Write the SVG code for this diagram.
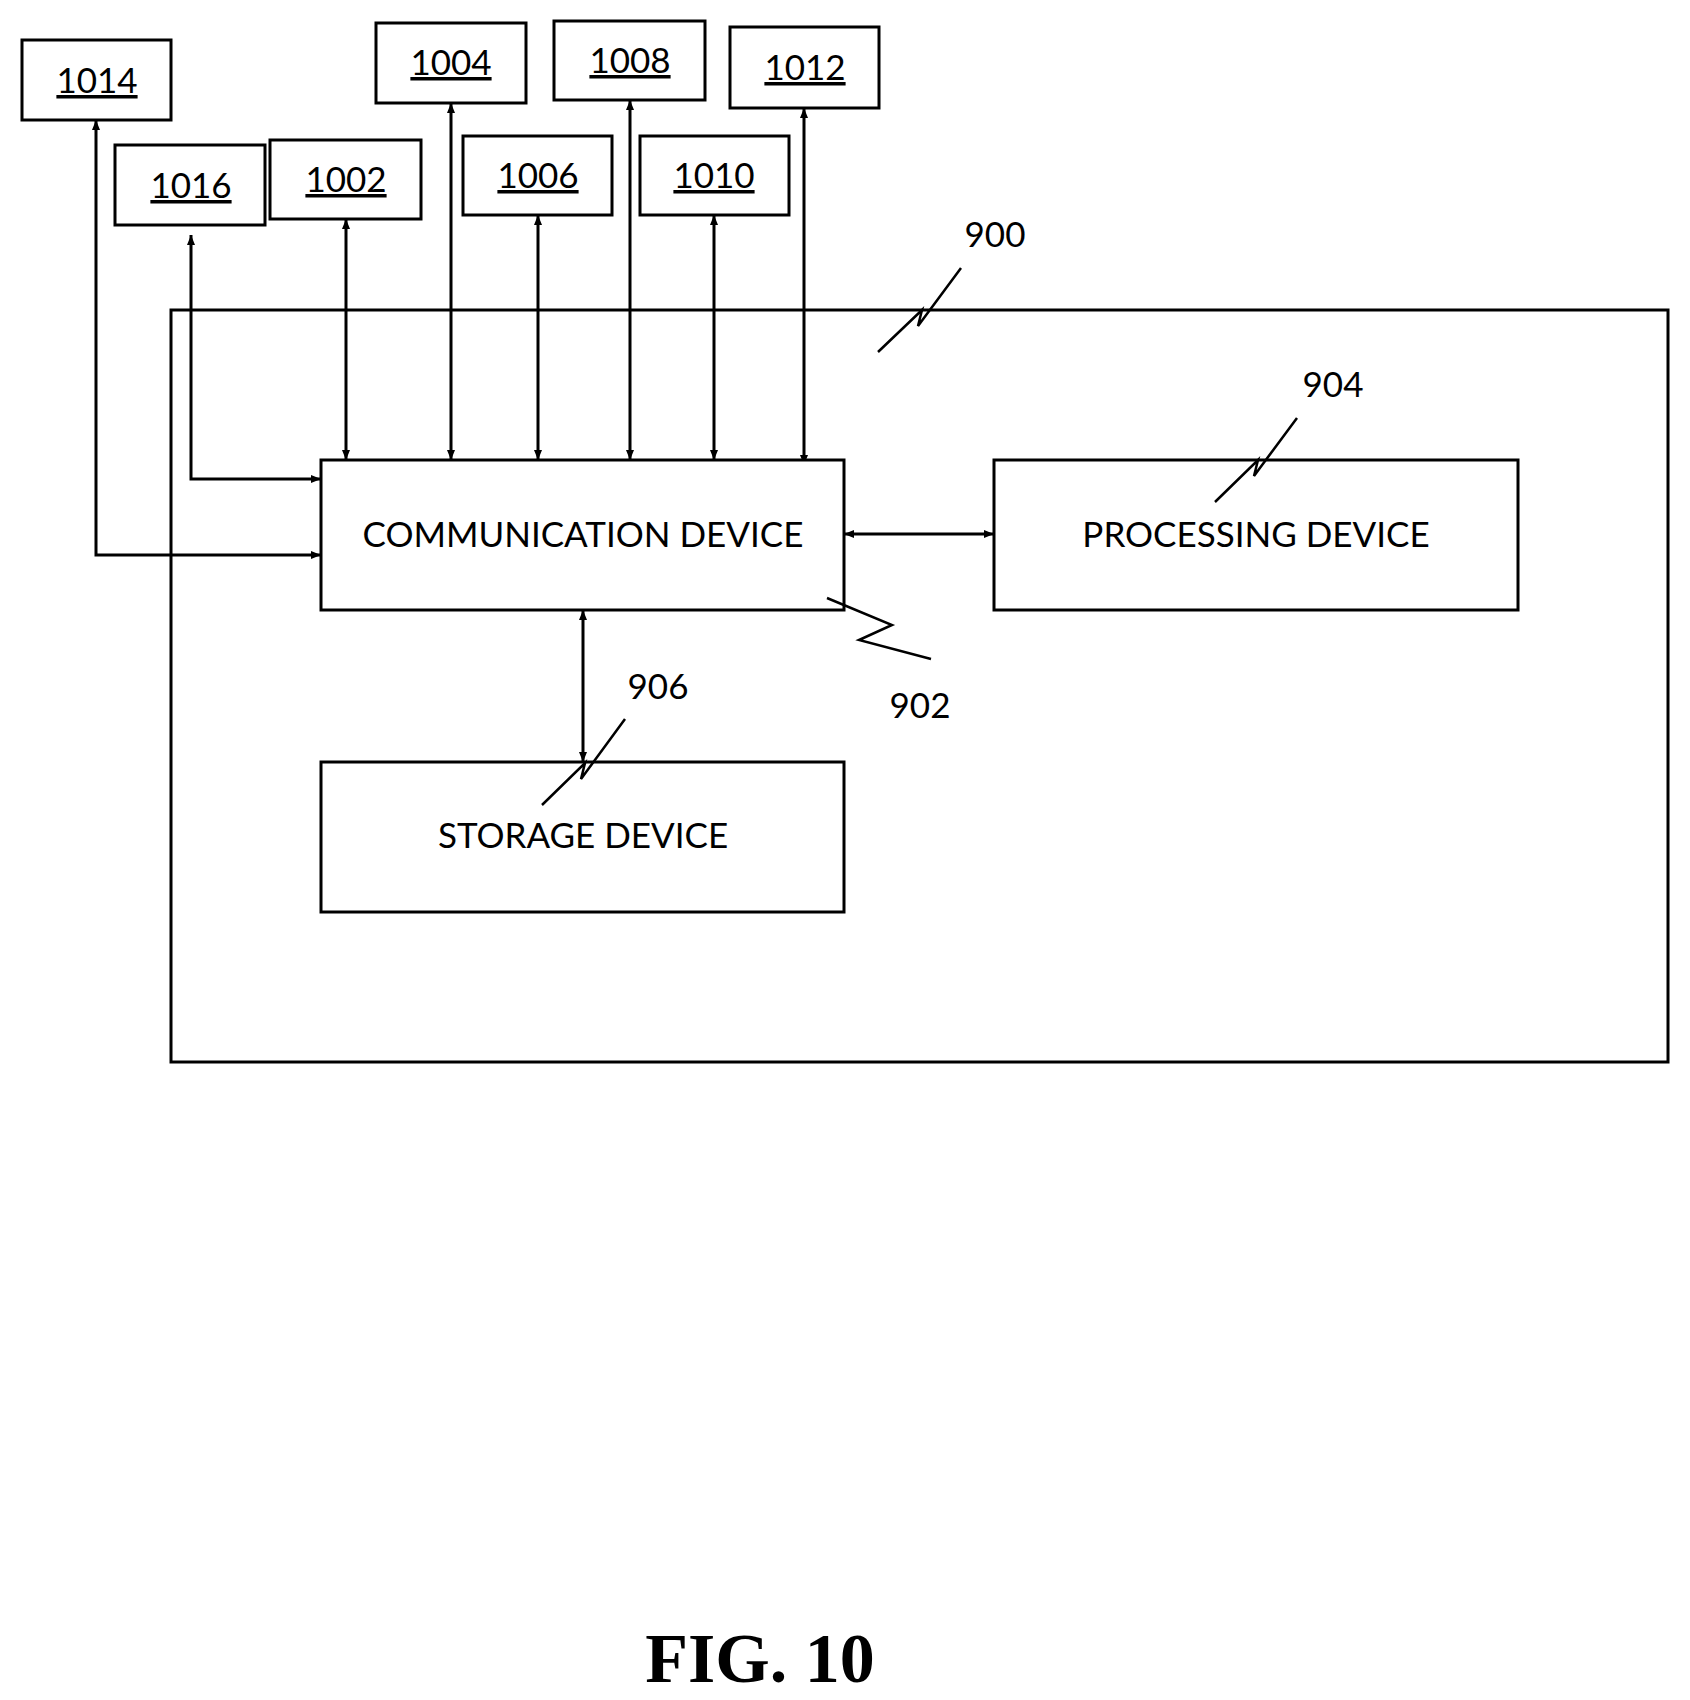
<svg xmlns="http://www.w3.org/2000/svg" width="1690" height="1700" viewBox="0 0 1690 1700">
<style>
.b{fill:#fff;stroke:#000;stroke-width:3}
.t{font-family:Lato,"Open Sans",sans-serif;font-size:35px;text-anchor:middle;fill:#000}
.u{text-decoration:underline}
.c{fill:none;stroke:#000;stroke-width:3}
.z{fill:none;stroke:#000;stroke-width:2.5}
</style>
<defs>
<marker id="a" markerWidth="10" markerHeight="8" refX="10" refY="4" orient="auto-start-reverse" markerUnits="userSpaceOnUse" viewBox="0 0 10 8"><path d="M0,0L10,4L0,8z"/></marker>
</defs>
<rect width="1690" height="1700" fill="#fff"/>
<g id="n900"><rect class="b" x="171" y="310" width="1497" height="752"/></g>
<g id="conn" class="c">
<path d="M96,120 V555 H321" marker-start="url(#a)" marker-end="url(#a)" style="marker-start:url(#a)"/>
<path d="M191,235 V479 H321" marker-start="url(#a)" marker-end="url(#a)"/>
<path d="M346,219 V460" marker-start="url(#a)" marker-end="url(#a)"/>
<path d="M451,103 V460" marker-start="url(#a)" marker-end="url(#a)"/>
<path d="M538,215 V460" marker-start="url(#a)" marker-end="url(#a)"/>
<path d="M630,100 V460" marker-start="url(#a)" marker-end="url(#a)"/>
<path d="M714,215 V460" marker-start="url(#a)" marker-end="url(#a)"/>
<path d="M804,108 V465" marker-start="url(#a)" marker-end="url(#a)"/>
<path d="M844,534 H994" marker-start="url(#a)" marker-end="url(#a)"/>
<path d="M583,610 V762" marker-start="url(#a)" marker-end="url(#a)"/>
</g>
<style>#conn path{marker-start:url(#a);marker-end:url(#a)}#conn marker{}</style>
<g id="n902"><rect class="b" x="321" y="460" width="523" height="150"/><text class="t" x="583" y="547">COMMUNICATION DEVICE</text></g>
<g id="n904"><rect class="b" x="994" y="460" width="524" height="150"/><text class="t" x="1256" y="547">PROCESSING DEVICE</text></g>
<g id="n906"><rect class="b" x="321" y="762" width="523" height="150"/><text class="t" x="583" y="848">STORAGE DEVICE</text></g>
<g id="n1014"><rect class="b" x="22" y="40" width="149" height="80"/><text class="t u" x="97" y="93">1014</text></g>
<g id="n1016"><rect class="b" x="115" y="145" width="150" height="80"/><text class="t u" x="191" y="198">1016</text></g>
<g id="n1002"><rect class="b" x="270" y="140" width="151" height="79"/><text class="t u" x="346" y="192">1002</text></g>
<g id="n1004"><rect class="b" x="376" y="23" width="150" height="80"/><text class="t u" x="451" y="75">1004</text></g>
<g id="n1006"><rect class="b" x="463" y="136" width="149" height="79"/><text class="t u" x="538" y="188">1006</text></g>
<g id="n1008"><rect class="b" x="554" y="21" width="151" height="79"/><text class="t u" x="630" y="73">1008</text></g>
<g id="n1010"><rect class="b" x="640" y="136" width="149" height="79"/><text class="t u" x="714" y="188">1010</text></g>
<g id="n1012"><rect class="b" x="730" y="27" width="149" height="81"/><text class="t u" x="805" y="80">1012</text></g>
<g id="labels">
<path class="z" d="M878,352 L922,310 L918,326 L961,268"/>
<text class="t" x="995" y="247">900</text>
<path class="z" d="M1215,502 L1258,460 L1254,476 L1297,418"/>
<text class="t" x="1333" y="397">904</text>
<path class="z" d="M827,598 L892,625 L859,640 L931,659"/>
<text class="t" x="920" y="718">902</text>
<path class="z" d="M542,805 L585,763 L581,779 L625,719"/>
<text class="t" x="658" y="699">906</text>
<text x="760" y="1682" style="font-family:'Liberation Serif',serif;font-weight:bold;font-size:70px;text-anchor:middle">FIG. 10</text>
</g>
</svg>
